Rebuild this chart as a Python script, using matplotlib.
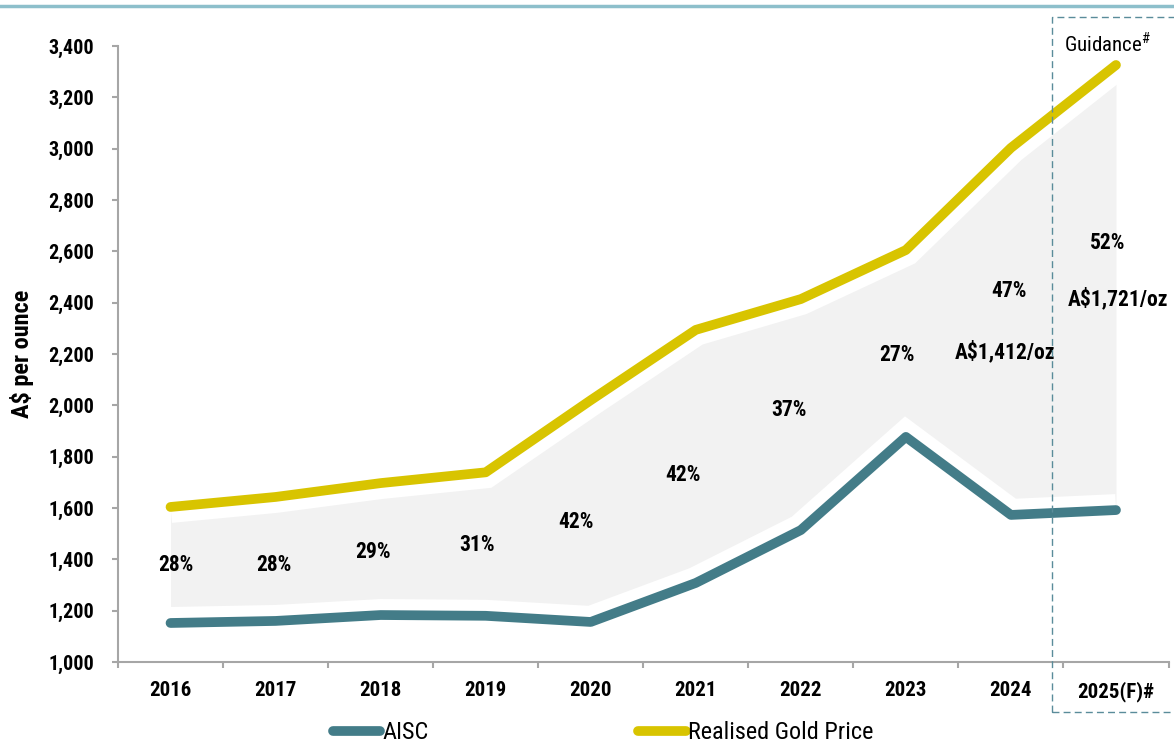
import numpy as np
import matplotlib
matplotlib.use("Agg")
import matplotlib.pyplot as plt
from matplotlib import font_manager
from matplotlib.lines import Line2D
from matplotlib.patches import Rectangle
from matplotlib.ticker import StrMethodFormatter, FixedLocator

# data
years = ['2016', '2017', '2018', '2019', '2020', '2021', '2022', '2023', '2024', '2025(F)#']
aisc = [1152, 1160, 1183, 1180, 1156, 1308, 1514, 1877, 1573, 1592]
gold = [1604, 1643, 1697, 1739, 2020, 2294, 2414, 2605, 3003, 3326]
margins = ['28%', '28%', '29%', '31%', '42%', '42%', '37%', '27%', '47%', '52%']
margin_cash = ['A$1,412/oz', 'A$1,721/oz']

# annotation positions (x index, y value)
margin_x = [0.05, 0.98, 1.93, 2.92, 3.86, 4.88, 5.89, 6.92, 7.98, 8.92]
margin_y = [1378, 1378, 1429, 1456, 1546, 1729, 1982, 2196, 2446, 2632]
cash_x = [7.94, 9.02]
cash_y = [2208, 2414]

# narrow font if there is one, otherwise plain Liberation Sans
names = {f.name for f in font_manager.fontManager.ttflist}
fam = 'Liberation Sans'
for cand in ['Liberation Sans Narrow', 'Arial Narrow', 'Roboto Condensed', 'DejaVu Sans Condensed']:
    if cand in names:
        fam = cand
        break
plt.rcParams['font.family'] = [fam, 'DejaVu Sans']
plt.rcParams['mathtext.fontset'] = 'custom'
plt.rcParams['mathtext.rm'] = fam

teal = '#437C88'
yellow = '#D8C400'
axis_grey = '#A6A6A6'

fig = plt.figure(figsize=(11.74, 7.47), dpi=100)
ax = fig.add_axes([118 / 1174, 1 - 662 / 747, 1050.5 / 1174, 616 / 747])

x = np.arange(len(years))
ax.fill_between(x, aisc, gold, color='#F2F2F2', lw=0, zorder=1)
ax.plot(x, gold, color='white', lw=23, solid_capstyle='butt', solid_joinstyle='miter', zorder=2)
ax.plot(x, aisc, color='white', lw=23, solid_capstyle='butt', solid_joinstyle='miter', zorder=2)
ax.plot(x, aisc, color=teal, lw=7, solid_capstyle='round', zorder=3)
ax.plot(x, gold, color=yellow, lw=7, solid_capstyle='round', zorder=3)

for lab, lx, ly in zip(margins, margin_x, margin_y):
    ax.text(lx, ly, lab, ha='center', va='center', fontsize=15.5, fontweight='bold', zorder=5)
for lab, lx, ly in zip(margin_cash, cash_x, cash_y):
    ax.text(lx, ly, lab, ha='center', va='center', fontsize=15.5, fontweight='bold', zorder=5)

ax.set_xlim(-0.5, 9.5)
ax.set_ylim(1000, 3400)
ax.set_yticks(np.arange(1000, 3401, 200))
ax.yaxis.set_major_formatter(StrMethodFormatter('{x:,.0f}'))
ax.set_xticks(x)
ax.set_xticklabels(years)
ax.xaxis.set_minor_locator(FixedLocator(np.arange(-0.5, 10, 1)))
ax.tick_params(axis='x', which='major', length=0, pad=14, labelsize=15)
ax.tick_params(axis='x', which='minor', length=4, width=1.5, color=axis_grey)
ax.tick_params(axis='y', length=4, width=1.5, color=axis_grey, pad=13, labelsize=14.5)
for t in ax.get_xticklabels() + ax.get_yticklabels():
    t.set_fontweight('bold')

for s in ['top', 'right']:
    ax.spines[s].set_visible(False)
for s in ['left', 'bottom']:
    ax.spines[s].set_color(axis_grey)
    ax.spines[s].set_linewidth(1.5)

ax.set_ylabel('A$ per ounce', fontsize=17.5, fontweight='bold')
ax.yaxis.set_label_coords(-0.08, 0.5)

# guidance box
ax.add_patch(Rectangle((8.39, 805), 1.6, 2708, fill=False, edgecolor='#5A8C9A',
                       lw=1.0, linestyle=(0, (5, 3)), clip_on=False, zorder=6))
ax.text(8.92, 3410, 'Guidance$^{\\#}$', ha='center', va='center', fontsize=15)

# top rule
fig.add_artist(Line2D([0, 1], [1 - 6 / 747, 1 - 6 / 747], color='#8DBFCB', lw=2.5,
                      transform=fig.transFigure))

handles = [Line2D([], [], color=teal, lw=7, solid_capstyle='round'),
           Line2D([], [], color=yellow, lw=7, solid_capstyle='round')]
fig.legend(handles, ['AISC', 'Realised Gold Price'], loc='center left', ncol=2,
           bbox_to_anchor=(333 / 1174, 0.019), frameon=False, fontsize=17.5,
           handlelength=1.95, handletextpad=0.1, columnspacing=8.6, borderpad=0,
           borderaxespad=0)

fig.savefig('out.png', dpi=100)
